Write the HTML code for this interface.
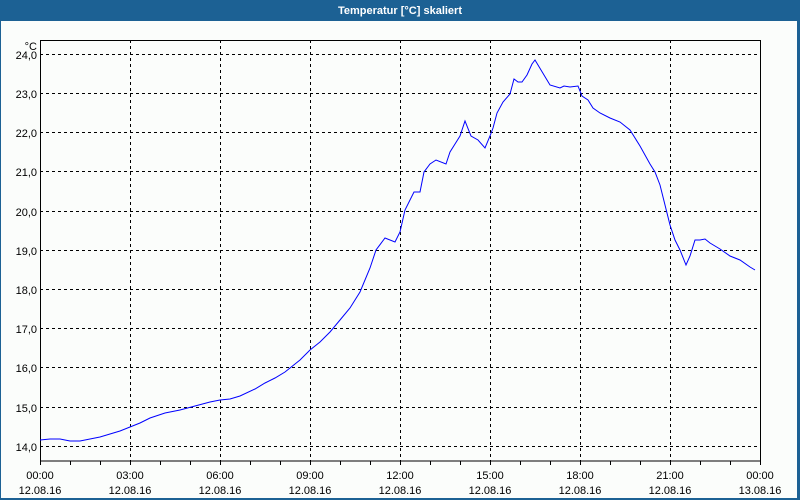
<!DOCTYPE html>
<html><head><meta charset="utf-8"><style>
body{margin:0;background:#fff}
svg{display:block}
text{font-family:"Liberation Sans",sans-serif;font-size:11px;fill:#000}
</style></head><body>
<svg width="800" height="500" xmlns="http://www.w3.org/2000/svg">
<rect x="0" y="0" width="800" height="500" fill="#1c6194"/>
<rect x="1" y="21" width="796" height="477" fill="#fbfdfb"/>
<text x="400" y="14" text-anchor="middle" font-weight="bold" style="fill:#fff;font-size:11px">Temperatur [°C] skaliert</text>
<g stroke="#000" stroke-dasharray="3,3" stroke-width="1" shape-rendering="crispEdges">
<line x1="40" x2="760" y1="54.5" y2="54.5"/>
<line x1="40" x2="760" y1="93.5" y2="93.5"/>
<line x1="40" x2="760" y1="132.5" y2="132.5"/>
<line x1="40" x2="760" y1="171.5" y2="171.5"/>
<line x1="40" x2="760" y1="211.5" y2="211.5"/>
<line x1="40" x2="760" y1="250.5" y2="250.5"/>
<line x1="40" x2="760" y1="289.5" y2="289.5"/>
<line x1="40" x2="760" y1="328.5" y2="328.5"/>
<line x1="40" x2="760" y1="367.5" y2="367.5"/>
<line x1="40" x2="760" y1="407.5" y2="407.5"/>
<line x1="40" x2="760" y1="446.5" y2="446.5"/>
<line x1="130.5" x2="130.5" y1="40" y2="461"/>
<line x1="220.5" x2="220.5" y1="40" y2="461"/>
<line x1="310.5" x2="310.5" y1="40" y2="461"/>
<line x1="400.5" x2="400.5" y1="40" y2="461"/>
<line x1="490.5" x2="490.5" y1="40" y2="461"/>
<line x1="580.5" x2="580.5" y1="40" y2="461"/>
<line x1="670.5" x2="670.5" y1="40" y2="461"/>
</g>
<rect x="40.5" y="40.5" width="720" height="420.5" fill="none" stroke="#000" shape-rendering="crispEdges"/>
<g stroke="#000" shape-rendering="crispEdges">
<path d="M40.5 461v4M70.5 461v4M100.5 461v4M130.5 461v4M160.5 461v4M190.5 461v4M220.5 461v4M250.5 461v4M280.5 461v4M310.5 461v4M340.5 461v4M370.5 461v4M400.5 461v4M430.5 461v4M460.5 461v4M490.5 461v4M520.5 461v4M550.5 461v4M580.5 461v4M610.5 461v4M640.5 461v4M670.5 461v4M700.5 461v4M730.5 461v4M760.5 461v4"/>
</g>
<polyline fill="none" stroke="#0000ff" stroke-width="1" points="40,440 50,439 60,439 70,441 80,441 90,439 100,437 110,434 120,431 130,427 140,423 150,418 165,413 180,410 195,406 210,402 220,400 230,399 240,396 255,389 265,383 275,378 285,372 300,360 310,350 320,342 330,332 340,320 350,308 360,292 370,268 376,250 385,238 395,242 400,232 405,210 410,200 414,192 420,192 424,172 430,164 436,160 446,164 450,152 455,144 460,136 465,121 471,136 478,140 485,148 490,136 493,128 497,113 503,102 510,94 514,79 518,82 522,82 527,75 532,64 535,60 541,70 547,80 550,85 560,88 564,86 570,87 578,86 582,96 588,100 593,108 600,113 610,118 620,122 630,130 640,146 650,164 655,172 660,185 665,205 670,225 675,240 680,250 686,265 690,256 695,240 700,240 705,239 710,243 720,249 730,256 740,260 750,267 755,270"/>
<g text-anchor="end">
<text x="37" y="50" text-anchor="end">°C</text>
<text x="37" y="59">24,0</text>
<text x="37" y="98">23,0</text>
<text x="37" y="137">22,0</text>
<text x="37" y="176">21,0</text>
<text x="37" y="216">20,0</text>
<text x="37" y="255">19,0</text>
<text x="37" y="294">18,0</text>
<text x="37" y="333">17,0</text>
<text x="37" y="372">16,0</text>
<text x="37" y="412">15,0</text>
<text x="37" y="451">14,0</text>
</g>
<g text-anchor="middle">
<text x="40" y="479">00:00</text><text x="40" y="494">12.08.16</text>
<text x="130" y="479">03:00</text><text x="130" y="494">12.08.16</text>
<text x="220" y="479">06:00</text><text x="220" y="494">12.08.16</text>
<text x="310" y="479">09:00</text><text x="310" y="494">12.08.16</text>
<text x="400" y="479">12:00</text><text x="400" y="494">12.08.16</text>
<text x="490" y="479">15:00</text><text x="490" y="494">12.08.16</text>
<text x="580" y="479">18:00</text><text x="580" y="494">12.08.16</text>
<text x="670" y="479">21:00</text><text x="670" y="494">12.08.16</text>
<text x="760" y="479">00:00</text><text x="760" y="494">13.08.16</text>
</g>
</svg>
</body></html>
